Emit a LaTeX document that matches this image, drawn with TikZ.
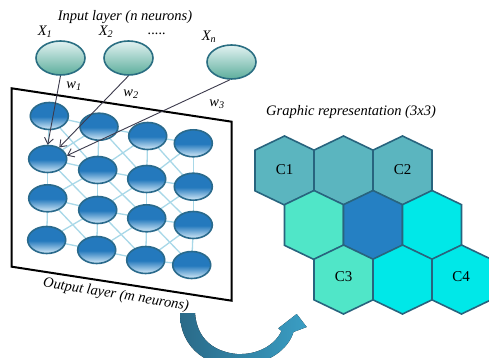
\documentclass[tikz,border=0pt]{standalone}
\usepackage{fontspec}
\setmainfont{Liberation Serif}
\usetikzlibrary{arrows.meta,shapes.geometric}
\pgfdeclarelayer{paper}
\pgfdeclarelayer{background}
\pgfsetlayers{paper,background,main}
\definecolor{inborder}{HTML}{2A6E82}
\definecolor{intop}{HTML}{E2F2F2}
\definecolor{inbot}{HTML}{5DAE9C}
\definecolor{outborder}{HTML}{2A6A8C}
\definecolor{outdark}{HTML}{2479BD}
\definecolor{outlight}{HTML}{D6EBF8}
\definecolor{gridblue}{HTML}{A8D8E8}
\definecolor{wirecol}{HTML}{3C3A4C}
\definecolor{hexline}{HTML}{28647E}
\definecolor{hexA}{HTML}{5BB5BF}
\definecolor{hexB}{HTML}{50E6C8}
\definecolor{hexC}{HTML}{2580C3}
\definecolor{hexD}{HTML}{00E8E8}
\definecolor{arrdark}{HTML}{2A6A88}
\definecolor{arrlight}{HTML}{3A9EC4}
\pgfdeclareverticalshading{outshade}{100bp}{color(0bp)=(outlight); color(25bp)=(outlight); color(49bp)=(outdark); color(75bp)=(outdark); color(100bp)=(outdark)}
\tikzset{
  inneuron/.style={ellipse, draw=inborder, line width=1.6pt, top color=intop, bottom color=inbot, minimum width=49pt, minimum height=34pt, inner sep=0pt},
  outneuron/.style={ellipse, draw=outborder, line width=1.6pt, shading=outshade, minimum width=38pt, minimum height=27pt, inner sep=0pt},
  gridline/.style={draw=gridblue, line width=1.3pt},
  wire/.style={draw=wirecol, line width=0.9pt, -{Straight Barb[length=6pt,width=9pt]}},
  lbl/.style={font=\rmfamily\fontsize{14.5}{16}\selectfont\itshape, inner sep=0pt},
  hexlbl/.style={font=\rmfamily\fontsize{15}{17}\selectfont, inner sep=0pt},
  frameline/.style={draw=black, line width=2pt},
  pics/hexcell/.style={code={\filldraw[draw=hexline, line width=1.6pt, line join=miter, fill=#1] (0,-34.5) -- (29.5,-20.35) -- (29.5,20.35) -- (0,34.5) -- (-29.5,20.35) -- (-29.5,-20.35) -- cycle;}}
}
\begin{document}
\begin{tikzpicture}[x=1pt,y=-1pt]
\useasboundingbox (0,0) rectangle (489,358);
\begin{pgfonlayer}{paper}
\fill[white] (0,0) rectangle (489,358);
\end{pgfonlayer}

% frame
\draw[frameline] (11.7,88.3) -- (231.7,121.7) -- (231.7,300.7) -- (11.7,266.7) -- cycle;

% input neurons
\node[inneuron] (i1) at (60.5,58) {};
\node[inneuron] (i2) at (128.5,58) {};
\node[inneuron] (i3) at (231.5,62) {};

% output neurons
\node[outneuron] (o11) at (49.3,116) {};
\node[outneuron] (o12) at (47.7,159) {};
\node[outneuron] (o13) at (47.7,198.3) {};
\node[outneuron] (o14) at (46.7,240) {};
\node[outneuron] (o21) at (99,126.7) {};
\node[outneuron] (o22) at (97.7,170) {};
\node[outneuron] (o23) at (97.7,210) {};
\node[outneuron] (o24) at (96.7,250) {};
\node[outneuron] (o31) at (147.7,136) {};
\node[outneuron] (o32) at (146.7,179) {};
\node[outneuron] (o33) at (146.7,218.3) {};
\node[outneuron] (o34) at (145.7,260) {};
\node[outneuron] (o41) at (193.3,143.3) {};
\node[outneuron] (o42) at (193.3,186.7) {};
\node[outneuron] (o43) at (193.3,225) {};
\node[outneuron] (o44) at (191.7,265) {};

\begin{pgfonlayer}{background}
\foreach \c in {1,2,3,4}{
  \foreach \r/\s in {1/2,2/3,3/4}{
    \draw[gridline] (o\c\r.center) -- (o\c\s.center);
  }
}
\foreach \c/\d in {1/2,2/3,3/4}{
  \foreach \r in {1,2,3,4}{
    \draw[gridline] (o\c\r.center) -- (o\d\r.center);
  }
  \foreach \r/\s in {1/2,2/3,3/4}{
    \draw[gridline] (o\c\r.center) -- (o\d\s.center);
    \draw[gridline] (o\d\r.center) -- (o\c\s.center);
  }
}
\end{pgfonlayer}

% wires
\draw[wire] (i1.south) -- (o12.north);
\draw[wire] (i2.south) -- (o12.45);
\draw[wire] (i3.265) -- (o12.10);

% labels
\node[lbl] (tin) at (125,17) {Input layer (n neurons)};
\node[lbl] (x1) at (45,32) {X\textsubscript{1}};
\node[lbl] (x2) at (106,32) {X\textsubscript{2}};
\node[lbl] (dots) at (157,34) {.....};
\node[lbl] (xn) at (209,37) {X\textsubscript{n}};
\node[lbl] (w1) at (74,86) {w\textsubscript{1}};
\node[lbl] (w2) at (131,94) {w\textsubscript{2}};
\node[lbl] (w3) at (217,104) {w\textsubscript{3}};
\node[lbl, rotate=-9] (tout) at (116,295) {Output layer (m neurons)};
\node[lbl] (tgr) at (351,112) {Graphic representation (3x3)};

% hex map
\pic at (284.5,170.5) {hexcell=hexA};
\pic at (343.5,170.5) {hexcell=hexA};
\pic at (402.5,170.5) {hexcell=hexA};
\pic at (314,225) {hexcell=hexB};
\pic at (373,225) {hexcell=hexC};
\pic at (432,225) {hexcell=hexD};
\pic at (343.5,279.5) {hexcell=hexB};
\pic at (402.5,279.5) {hexcell=hexD};
\pic at (461.5,279.5) {hexcell=hexD};
\node[hexlbl] (c1) at (284.5,170) {C1};
\node[hexlbl] (c2) at (402.5,170) {C2};
\node[hexlbl] (c3) at (343.5,277) {C3};
\node[hexlbl] (c4) at (461,277) {C4};

% curved arrow
\fill[left color=arrdark, right color=arrlight] (180,313) .. controls (180,350) and (210,368) .. (240,366) .. controls (268,364) and (288,350) .. (293.5,332) -- (306.7,327) -- (296.7,314) -- (278.3,328.3) -- (281.5,331) .. controls (275,345) and (258,355) .. (237,354) .. controls (215,352) and (197,340) .. (195,313) -- cycle;
\end{tikzpicture}
\end{document}
